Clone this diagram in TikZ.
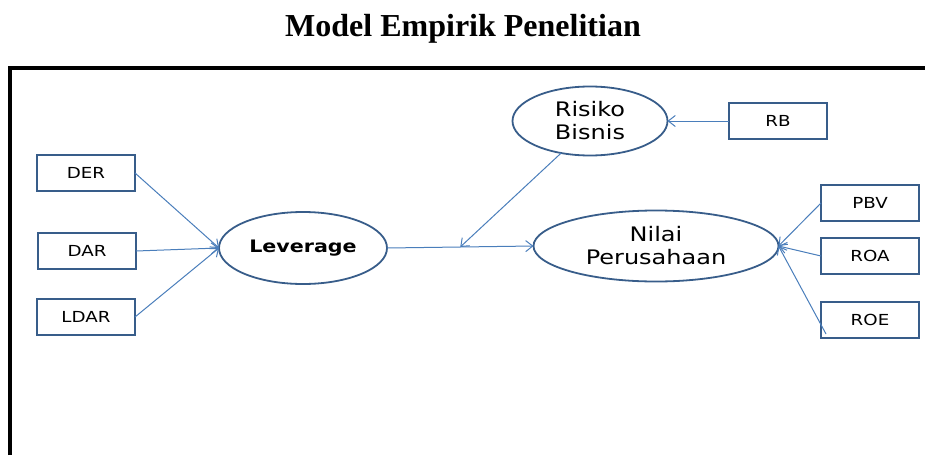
\documentclass[tikz,border=0pt]{standalone}
\usepackage{fontspec}
\setmainfont{Liberation Serif}
\newfontfamily\diagfont[FakeStretch=1.2]{DejaVu Sans}
\usepackage{tikz}
\usetikzlibrary{arrows.meta, calc, shapes.geometric, positioning}
\definecolor{boxblue}{HTML}{385D8A}
\definecolor{lineblue}{HTML}{4A7EBB}

\begin{document}
\begin{tikzpicture}[x=0.5pt, y=-0.5pt,% styles used in image code
         > = {Straight Barb[length=3.5pt, width=5.5pt]}, % defined in "arrows.meta
ind/.style = {draw=boxblue, line width=1pt, rectangle,
              minimum width=49pt, minimum height=18pt,
              inner sep=0pt, outer sep=0pt,
              font=\diagfont\fontsize{7.6}{9}\selectfont},
lat/.style = {draw=boxblue, line width=0.9pt, ellipse,
              inner sep=0pt, outer sep=0pt, align=center,
              font=\diagfont\fontsize{10}{11.5}\selectfont},
arr/.style = {->, draw=lineblue, line width=0.5pt}
                        ]
	\useasboundingbox (0,0) rectangle (925,455);
	% title and frame
	\node (title) at (463,29) {\fontsize{16}{18}\selectfont\bfseries Model Empirik Penelitian};
	\draw[line width=2pt] (10,455) -- (10,68) -- (925,68);

	% indicators of leverage
	\node[ind] (DER)  at (86,173) {DER};
	\node[ind] (DAR)  at (87,251) {DAR};
	\node[ind] (LDAR) at (86,317) {LDAR};

	% latent variables
	\node[lat, minimum width=84pt, minimum height=36pt] (Lev) at (303,248)
		{\bfseries\fontsize{8.6}{10}\selectfont Leverage};
	\node[lat, minimum width=77.5pt, minimum height=34.5pt] (Ris) at (590,121)
		{Risiko\\Bisnis};
	\node[lat, minimum width=122.5pt, minimum height=35.5pt] (Nil) at (656,246)
		{Nilai\\Perusahaan};

	% indicators of the others
	\node[ind] (RB)  at (778,121) {RB};
	\node[ind] (PBV) at (870,203) {PBV};
	\node[ind] (ROA) at (870,256) {ROA};
	\node[ind] (ROE) at (870,320) {ROE};

	\draw[arr] (DER.east)  -- (Lev.west);
	\draw[arr] (DAR.east)  -- (Lev.west);
	\draw[arr] (LDAR.east) -- (Lev.west);

	\draw[arr] (Lev.east) -- (Nil.west) coordinate[pos=0.5] (mod);
	\draw[arr] (Ris.228) -- (mod);
	\draw[arr] (RB.west) -- (Ris.east);

	\draw[arr] (PBV.west) -- (Nil.east);
	\draw[arr] (ROA.west) -- (Nil.east);
	\draw[arr] ([xshift=2.5pt,yshift=2pt]ROE.south west) -- (Nil.east);
\end{tikzpicture}
\end{document}
